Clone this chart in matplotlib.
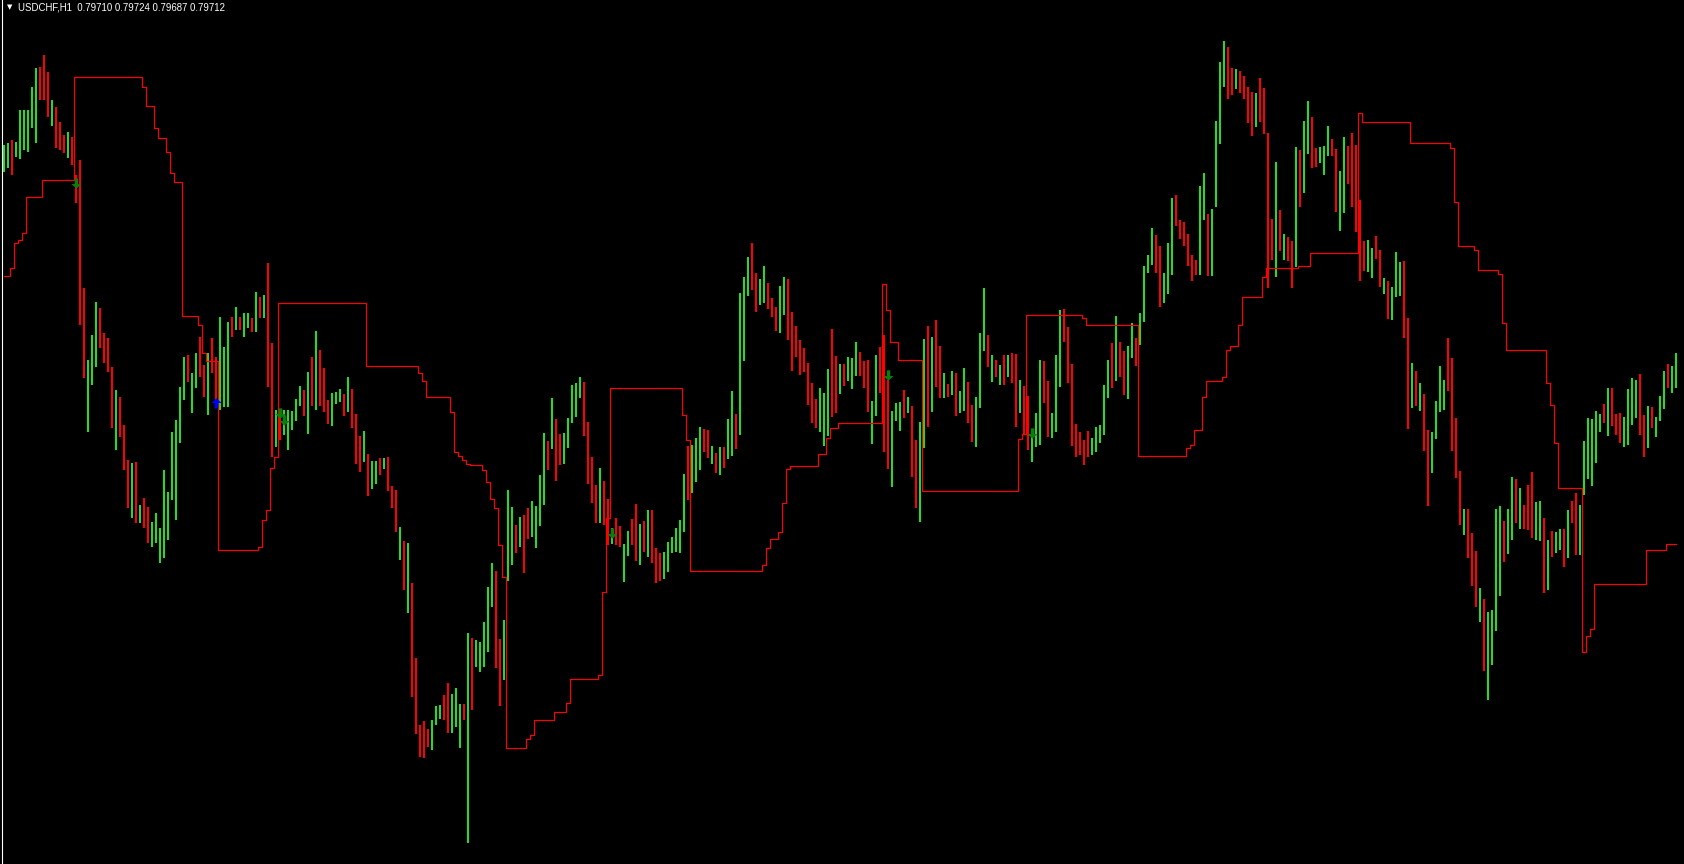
import matplotlib
matplotlib.use("Agg")
import matplotlib.pyplot as plt
import numpy as np

W, H = 1684, 864
BASE = 0.79  # all values below are points (0.00001) above this price

HIGH = [
    955, 957, 960, 958, 990, 990, 990, 1013, 1032, 1033,
    1045, 1028, 1000, 993, 978, 965, 968, 963, 925, 940,
    812, 740, 765, 798, 792, 767, 762, 733, 710, 703,
    675, 640, 637, 638, 595, 602, 593, 578, 587, 572,
    630, 608, 668, 680, 713, 743, 745, 727, 747, 763,
    735, 747, 762, 743, 783, 753, 778, 783, 793, 783,
    787, 787, 782, 808, 803, 805, 837, 757, 690, 685,
    690, 690, 689, 701, 714, 710, 728, 743, 769, 750,
    732, 700, 707, 708, 711, 706, 723, 711, 686, 664,
    669, 646, 639, 639, 642, 642, 643, 614, 610, 573,
    559, 557, 517, 442, 375, 379, 371, 380, 394, 395,
    405, 417, 406, 412, 396, 396, 467, 462, 460, 458,
    478, 513, 537, 529, 461, 480, 610, 593, 575, 583,
    585, 592, 599, 594, 625, 667, 659, 702, 681, 666,
    667, 682, 715, 717, 723, 718, 678, 643, 615, 632,
    619, 601, 572, 582, 574, 556, 569, 581, 596, 576,
    579, 590, 590, 552, 547, 548, 558, 563, 572, 580,
    626, 654, 655, 662, 673, 671, 670, 654, 647, 653,
    653, 681, 709, 686, 807, 823, 843, 857, 827, 821,
    834, 817, 802, 793, 814, 823, 821, 788, 774, 760,
    752, 737, 717, 701, 712, 707, 731, 771, 744, 736,
    736, 743, 742, 758, 748, 739, 740, 699, 745, 753,
    765, 720, 689, 697, 698, 710, 703, 694, 660, 678,
    761, 774, 763, 780, 754, 727, 716, 729, 727, 709,
    732, 718, 695, 703, 767, 812, 765, 745, 740, 735,
    745, 745, 747, 746, 720, 714, 704, 665, 687, 740,
    739, 719, 687, 745, 790, 791, 773, 736, 676, 668,
    660, 669, 662, 673, 675, 715, 740, 757, 784, 758,
    749, 754, 777, 762, 787, 834, 845, 872, 865, 854,
    827, 857, 902, 905, 880, 878, 866, 845, 840, 914,
    927, 886, 891, 979, 1038, 1059, 1053, 1032, 1031, 1029,
    1024, 1013, 1008, 1007, 1022, 1012, 967, 881, 938, 890,
    866, 863, 859, 953, 950, 979, 999, 983, 952, 953,
    954, 974, 961, 951, 929, 963, 954, 967, 955, 900,
    859, 860, 852, 864, 850, 822, 819, 813, 848, 838,
    839, 782, 737, 729, 717, 706, 670, 668, 699, 734,
    720, 762, 742, 682, 629, 591, 591, 567, 549, 512,
    501, 488, 490, 591, 594, 579, 591, 623, 621, 612,
    595, 615, 628, 598, 599, 582, 560, 569, 568, 571,
    571, 590, 599, 607, 595, 659, 682, 681, 689, 686,
    696, 712, 712, 686, 687, 683, 711, 722, 720, 726,
    685, 694, 693, 683, 704, 729, 736, 734, 747,
]

LOW = [
    928, 932, 925, 943, 941, 950, 948, 972, 957, 1000,
    1000, 983, 974, 952, 950, 947, 942, 935, 897, 775,
    722, 668, 715, 733, 752, 737, 728, 672, 650, 663,
    630, 592, 582, 577, 577, 572, 557, 553, 557, 537,
    542, 560, 600, 580, 657, 700, 718, 687, 712, 723,
    703, 685, 727, 700, 690, 693, 693, 763, 770, 770,
    763, 772, 768, 768, 782, 782, 713, 643, 653, 660,
    665, 650, 670, 679, 694, 684, 666, 694, 690, 694,
    688, 676, 674, 696, 698, 684, 688, 672, 636, 628,
    638, 604, 611, 616, 625, 631, 609, 592, 568, 540,
    510, 487, 403, 366, 343, 342, 353, 350, 375, 381,
    380, 367, 367, 373, 352, 380, 257, 390, 433, 428,
    433, 448, 493, 432, 394, 420, 519, 535, 547, 553,
    527, 561, 563, 552, 574, 595, 630, 651, 619, 635,
    636, 652, 677, 683, 702, 664, 616, 597, 577, 577,
    575, 555, 556, 555, 553, 518, 544, 555, 539, 535,
    548, 543, 537, 517, 519, 521, 528, 547, 548, 547,
    568, 600, 607, 618, 630, 648, 642, 636, 627, 625,
    632, 641, 644, 651, 665, 739, 804, 810, 788, 795,
    797, 791, 783, 769, 767, 785, 760, 729, 743, 725,
    728, 695, 677, 672, 668, 654, 664, 683, 687, 706,
    714, 719, 711, 724, 724, 712, 688, 656, 684, 707,
    648, 631, 613, 679, 669, 682, 687, 623, 592, 578,
    652, 673, 688, 713, 702, 702, 703, 705, 684, 687,
    689, 677, 658, 653, 692, 749, 733, 718, 723, 715,
    715, 723, 717, 673, 687, 665, 650, 638, 653, 655,
    697, 663, 662, 668, 713, 758, 717, 654, 643, 645,
    635, 643, 645, 648, 657, 665, 702, 712, 719, 723,
    705, 701, 742, 734, 755, 778, 827, 835, 827, 793,
    797, 806, 825, 874, 861, 854, 834, 819, 825, 825,
    880, 824, 824, 893, 956, 1013, 1001, 1005, 1011, 1007,
    1001, 977, 964, 973, 978, 966, 812, 840, 823, 849,
    840, 839, 812, 833, 893, 907, 946, 932, 933, 937,
    925, 944, 944, 888, 869, 887, 916, 893, 868, 819,
    829, 828, 822, 841, 813, 806, 781, 780, 803, 804,
    762, 671, 692, 694, 689, 649, 594, 627, 661, 688,
    690, 709, 649, 622, 575, 565, 542, 514, 493, 478,
    429, 400, 435, 469, 504, 538, 546, 560, 577, 571,
    571, 570, 562, 560, 559, 507, 510, 543, 547, 550,
    533, 542, 577, 545, 545, 605, 621, 614, 637, 668,
    677, 664, 674, 665, 657, 653, 655, 675, 682, 665,
    643, 652, 672, 663, 679, 691, 712, 707, 712,
]

# g = bullish bar, r = bearish bar
DIRS = (
    "ggrggggggr" "rrgrrrgrrr" "rgggrrrrgr" "rrgrgrrggg" "ggggggrggr"
    "rgrrgggrgr" "ggrgrgrrgr" "gggggrgrgr" "rrgggrgrrr" "grggrgrrrg"
    "rgrrrrrggg" "rrgggrgrgg" "gggrrgggrg" "rrggggrgrr" "gggggrrrrg"
    "rrgrrggrrg" "rgrrrggggg" "grgggrrgrg" "rggrgggrrg" "grrrggrrrr"
    "rrrrgggrrg" "rgggrrrggr" "rrgggrgrrg" "grgrrgrgrg" "grrgggrgrg"
    "rgrrgrrggg" "rrgggrrrrr" "rrgggggrgr" "rggrggggrr" "gggrrrrrrg"
    "grggggrrgr" "rrrgrrrrgr" "grrgrggrrg" "ggrrggrrrr" "rggrrgrggg"
    "rrgrgrrggg" "grrrrgrrrg" "rggggrggrg" "rrrggrgrgg" "rgrrgggggg"
    "rgrrrggggr" "rgrgggrgg"
)

# trailing stop line: bar index where each level starts, and the level
STOP_START = [
    0, 2, 3, 4, 5, 6, 10, 18, 35, 36, 38, 39, 41, 42, 43, 45, 49, 50, 51,
    54, 64, 65, 66, 67, 68, 69, 91, 104, 105, 106, 112, 113, 114, 115, 116,
    117, 120, 121, 122, 123, 124, 125, 126, 131, 132, 133, 138, 141, 142,
    149, 150, 151, 152, 170, 171, 172, 190, 191, 192, 194, 195, 196, 197,
    204, 206, 207, 209, 220, 221, 222, 224, 230, 254, 255, 256, 270, 271,
    284, 296, 297, 298, 300, 301, 305, 306, 307, 309, 310, 315, 316, 324,
    327, 339, 340, 352, 362, 363, 364, 368, 369, 374, 375, 376, 386, 387,
    388, 389, 395, 396, 397, 398, 411, 416,
]
STOP_LEVEL = [
    824, 832, 857, 860, 867, 903, 920, 1023, 1013, 994, 972, 962, 948, 927,
    918, 784, 775, 747, 739,
    550, 553, 580, 590, 632, 643, 797, 734, 727, 719, 703, 688, 648, 644,
    640, 636, 635, 630, 618, 601, 592, 555, 523, 352, 361, 365, 380, 388,
    397, 421, 425, 508, 582, 712, 685, 660, 529, 535, 552, 561, 568, 597,
    631, 634, 646, 662, 672, 677, 816, 790, 758, 740, 609, 661, 666, 785,
    782, 775, 644, 652, 655, 670, 703, 719, 723, 750, 754, 775, 803, 823,
    832, 834, 847, 987, 978, 957, 952, 898, 854, 850, 830, 826, 777, 750,
    717, 695, 657, 612, 448, 464, 471, 516, 550, 556,
]

BUY_BAR = [53]
BUY_PTS = [697]
SELL_BAR = [18, 69, 70, 152, 221, 257]
SELL_PTS = [917, 687, 680, 567, 725, 667]

TITLE = "USDCHF,H1  0.79710 0.79724 0.79687 0.79712"

# arrow glyph outline (pointing up), unit box
ARROW_UP = [(-0.5, 0.05), (0.0, 0.5), (0.5, 0.05), (0.17, 0.05),
            (0.17, -0.5), (-0.17, -0.5), (-0.17, 0.05), (-0.5, 0.05)]
ARROW_DOWN = [(x, -y) for x, y in ARROW_UP]


def to_price(pts):
    return BASE + np.asarray(pts, dtype=float) / 1e5


n = len(HIGH)
idx = np.arange(n)
highs = to_price(HIGH)
lows = to_price(LOW)
up = np.array([c == "g" for c in DIRS])

fig = plt.figure(figsize=(W / 100, H / 100), dpi=100, facecolor="black")
ax = fig.add_axes([0, 0, 1, 1])
ax.set_facecolor("black")
ax.set_axis_off()
ax.set_xlim(-1, n + 1)
ax.set_ylim(to_price(236), to_price(1100))

ax.vlines(idx[up], lows[up], highs[up], colors="#22dd22", lw=1.45)
ax.vlines(idx[~up], lows[~up], highs[~up], colors="#ff0000", lw=1.45)

counts = np.diff(STOP_START + [n])
stop = np.repeat(STOP_LEVEL, counts)
ax.plot(idx, to_price(stop), color="#ff0000", lw=0.85, drawstyle="steps-mid")

ax.scatter(BUY_BAR, to_price(BUY_PTS), marker=ARROW_UP, s=55,
           color="#0000ff", linewidths=0, zorder=5)
ax.scatter(SELL_BAR, to_price(SELL_PTS), marker=ARROW_DOWN, s=55,
           color="#0b7d0b", linewidths=0, zorder=5)

# window frame edge on the left
ax.axvline(-0.5, color="white", lw=0.8)

fig.text(9.5 / W, 1 - 7 / H, "\u25bc", color="white", fontsize=5,
         family="DejaVu Sans", ha="center", va="center")
fig.text(18 / W, 1 - 7.5 / H, TITLE, color="white", fontsize=6.9,
         family=["Liberation Sans", "DejaVu Sans"], ha="left", va="center")

fig.savefig("out.png", dpi=100, facecolor="black")
